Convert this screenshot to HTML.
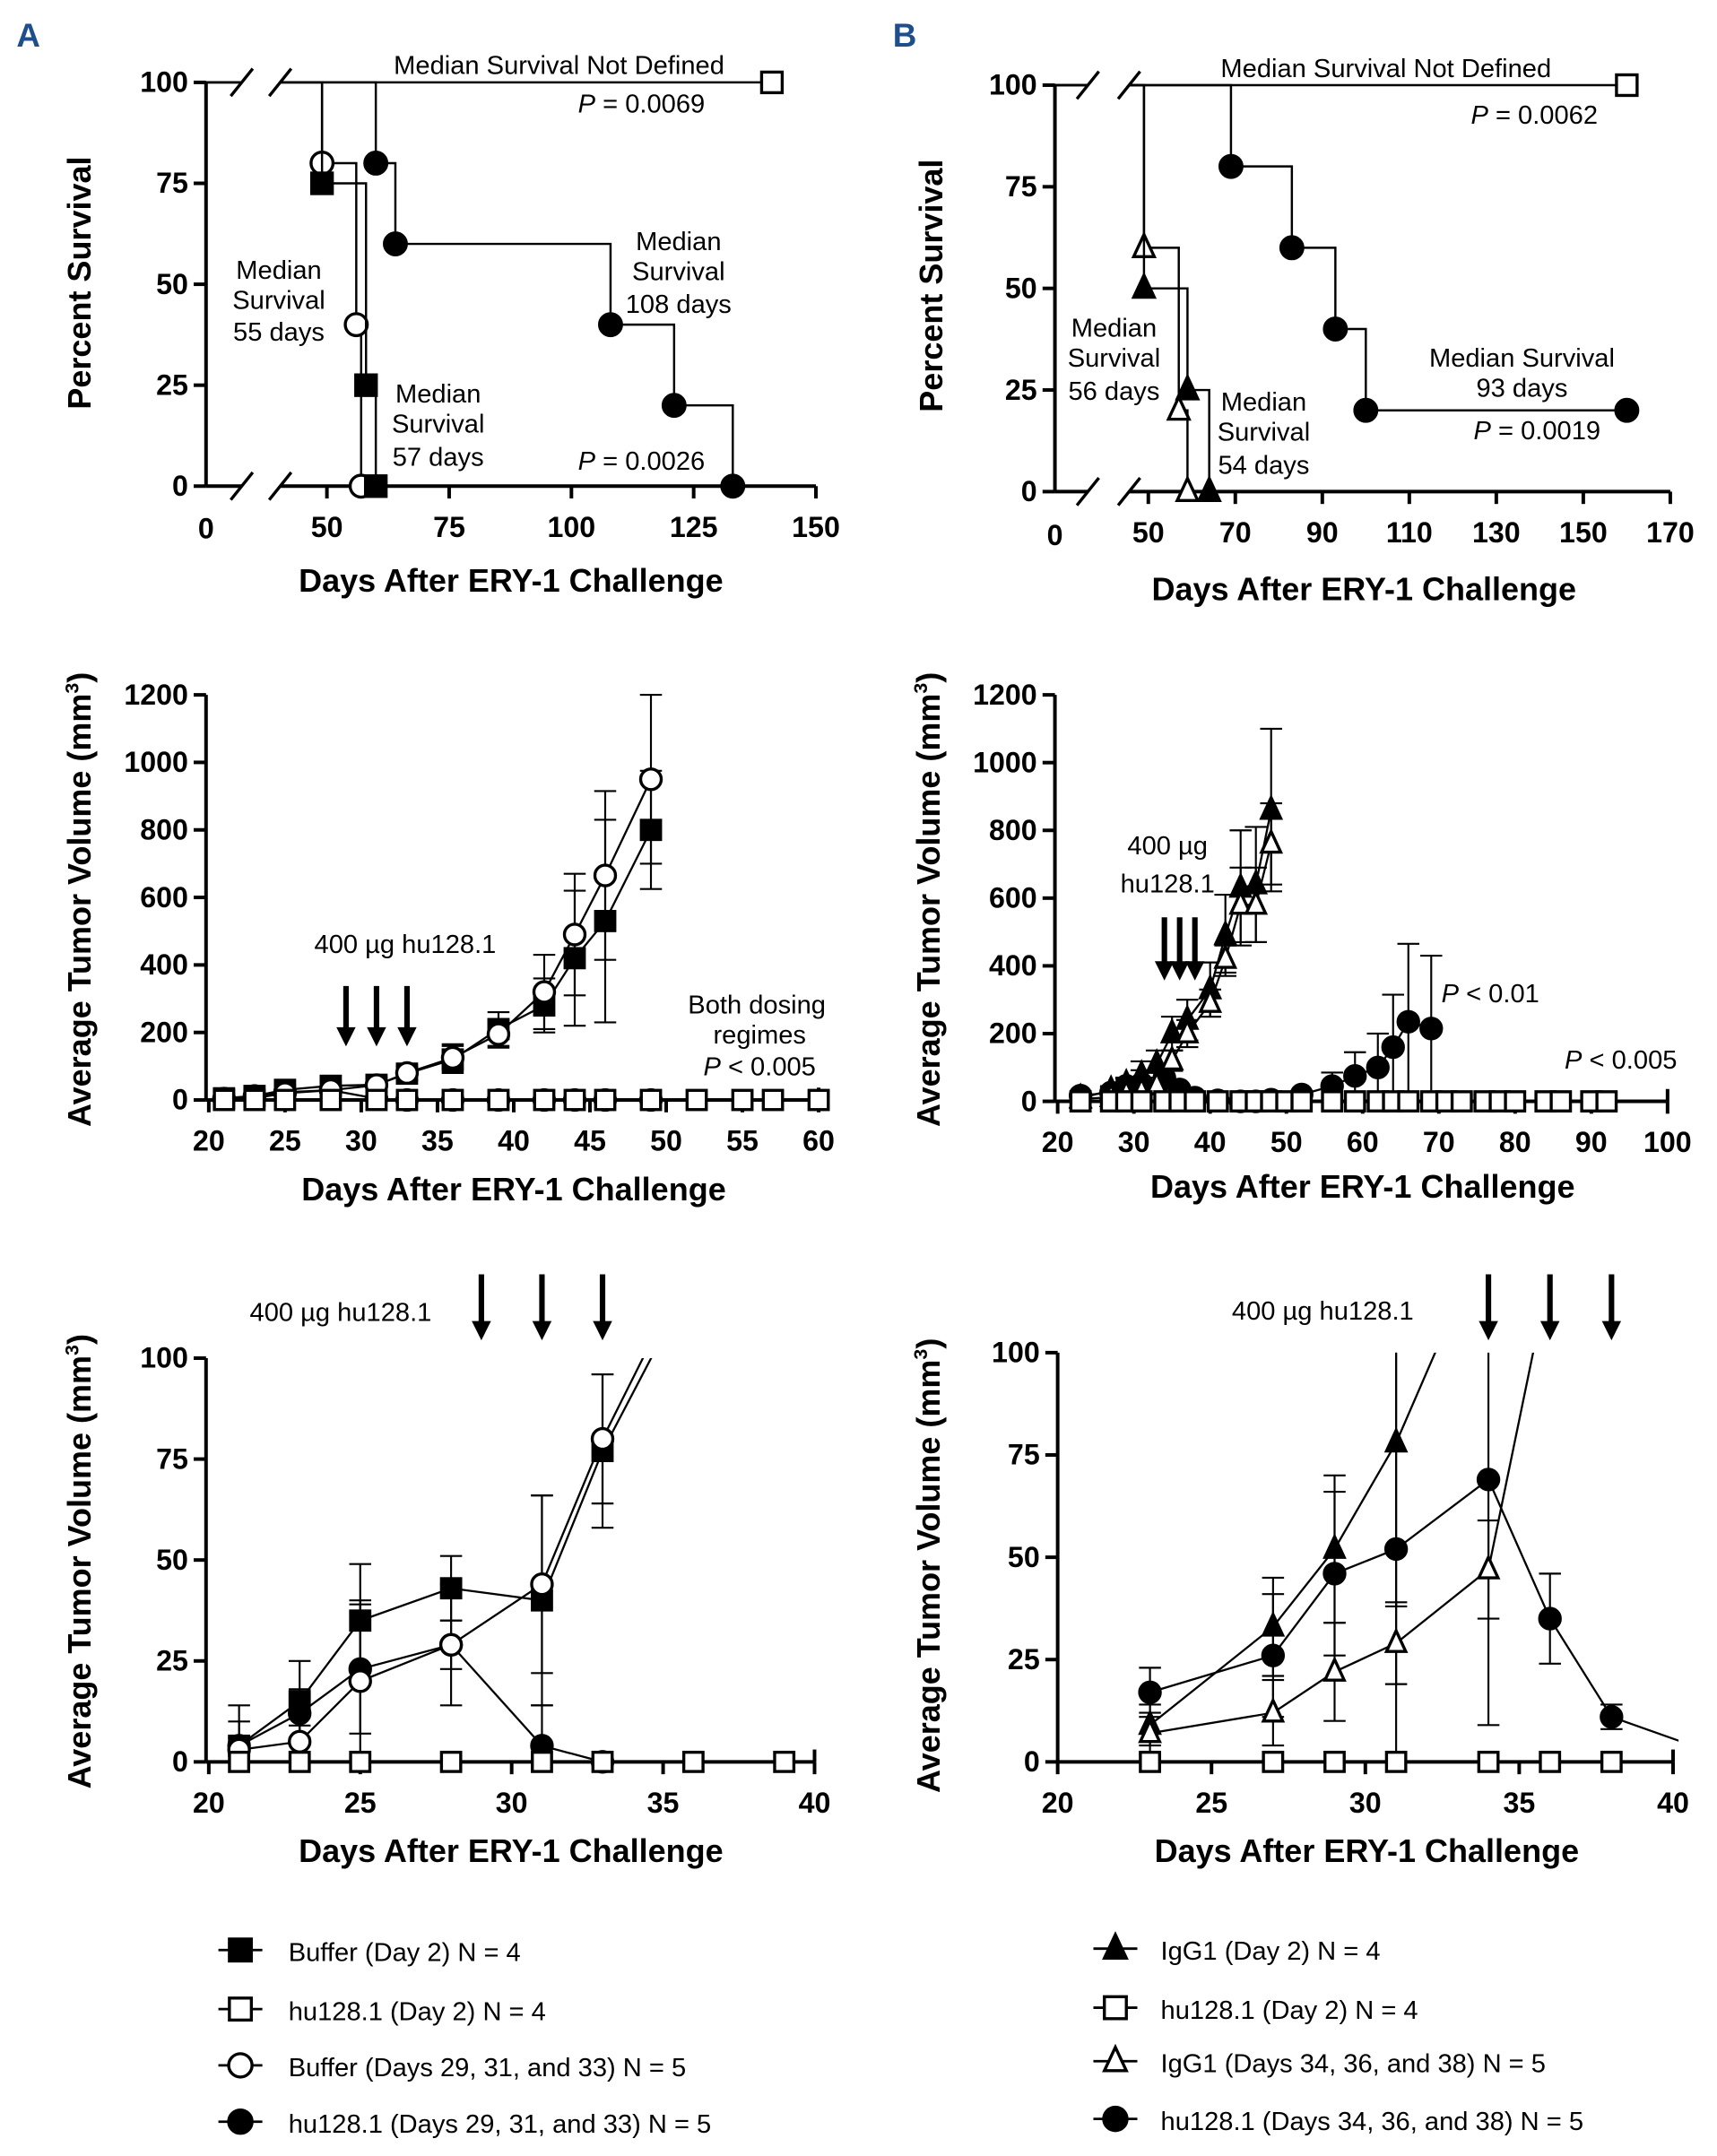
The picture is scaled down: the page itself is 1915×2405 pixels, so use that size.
<!DOCTYPE html>
<html><head><meta charset="utf-8"><style>
html,body{margin:0;padding:0;background:#fff;}
svg{display:block;font-family:"Liberation Sans",sans-serif;}
.tk{font-size:21px;font-weight:bold;text-anchor:middle;}
.tky{font-size:21px;font-weight:bold;text-anchor:end;}
.tt{font-size:23.5px;font-weight:bold;text-anchor:middle;}
.an{font-size:19px;}
</style></head><body>
<svg id="fig" width="1915" height="2405" viewBox="0 0 1250 1570" preserveAspectRatio="none" xmlns="http://www.w3.org/2000/svg">
<defs>
<clipPath id="clipA3"><rect x="150" y="989" width="450" height="320"/></clipPath>
<clipPath id="clipB3"><rect x="770" y="985" width="452" height="320"/></clipPath>
</defs>
<text x="12" y="34" font-size="24" font-weight="bold" fill="#1f4e8c">A</text>
<text x="650" y="34" font-size="24" font-weight="bold" fill="#1f4e8c">B</text>
<g id="root"></g>
</svg>
<script>
// ===== Data: Panel A survival =====
const kmA_bufDay2_t=[0,49,58,60];
const kmA_bufDay2_s=[100,75,25,0];
const kmA_huDay2_t=[0,141];
const kmA_huDay2_s=[100,100];
const kmA_bufLate_t=[0,49,56,57];
const kmA_bufLate_s=[100,80,40,0];
const kmA_huLate_t=[0,60,64,108,121,133];
const kmA_huLate_s=[100,80,60,40,20,0];
const kmA_xticks=[50,75,100,125,150];
const km_yticks=[0,25,50,75,100];
// ===== Panel B survival =====
const kmB_igDay2_t=[0,49,59,64];
const kmB_igDay2_s=[100,50,25,0];
const kmB_huDay2_t=[0,160];
const kmB_huDay2_s=[100,100];
const kmB_igLate_t=[0,49,57,59];
const kmB_igLate_s=[100,60,20,0];
const kmB_huLate_t=[0,69,83,93,100,160];
const kmB_huLate_s=[100,80,60,40,20,20];
const kmB_xticks=[50,70,90,110,130,150,170];
// ===== Panel A tumor volume (full) =====
const tvA_days=[21,23,25,28,31,33,36,39,42,44,46,49];
const tvA_buf=[5,12,30,42,45,78,120,210,280,420,530,800];
const tvA_bufErr=[4,10,15,10,20,20,40,50,80,200,300,175];
const tvA_bufLate=[4,5,20,29,44,80,125,195,320,490,665,950];
const tvA_bufLateErr=[3,4,20,15,22,18,40,40,110,180,250,250];
const tvA_huDays=[21,23,25,28,31,33,36,39,42,44,46,49,52,55,57,60];
const tvA_hu=[0,0,0,0,0,0,0,0,0,0,0,0,0,0,0,0];
const tvA_huLateDays=[21,23,25,28,31,33,36,39,42,44,46,49];
const tvA_huLate=[4,12,23,29,4,0,0,0,0,0,0,0];
const tvA_xticks=[20,25,30,35,40,45,50,55,60];
const tvA_yticks=[0,200,400,600,800,1000,1200];
// ===== Panel B tumor volume (full) =====
const tvB_igDays=[23,27,29,31,33,35,37,40,42,44,46,48];
const tvB_ig=[9,33,52,78,110,200,240,330,490,630,640,860];
const tvB_igErr=[5,12,18,40,40,50,60,80,120,170,170,240];
const tvB_igLate=[7,12,22,29,47,120,200,290,420,580,580,760];
const tvB_igLateErr=[5,8,12,10,12,30,40,40,40,110,110,120];
const tvB_huDays=[23,27,29,31,34,36,38,41,44,46,48,50,52,56,59,62,64,66,69,71,73,76,78,80,84,86,90,92];
const tvB_hu=[0,0,0,0,0,0,0,0,0,0,0,0,0,0,0,0,0,0,0,0,0,0,0,0,0,0,0,0];
const tvB_huLateDays=[23,27,29,31,34,36,38,41,44,46,48,52,56,59,62,64,66,69];
const tvB_huLate=[17,26,46,52,69,35,11,3,0,0,5,20,45,75,100,160,235,215];
const tvB_huLateErr=[8,15,20,40,40,11,4,2,0,0,5,10,40,70,100,155,230,215];
const tvB_xticks=[20,30,40,50,60,70,80,90,100];
// ===== Panel A tumor volume (zoom) =====
const zA_days=[21,23,25,28,31,33,36];
const zA_buf=[4,15,35,43,40,77,120];
const zA_bufErr=[10,10,14,8,26,19,20];
const zA_bufLate=[3,5,20,29,44,80,125];
const zA_bufLateErr=[3,4,20,15,22,16,20];
const zA_huDays=[21,23,25,28,31,33,36,39];
const zA_hu=[0,0,0,0,0,0,0,0];
const zA_huLate=[4,12,23,29,4,0];
const zA_huLateErr=[6,6,16,6,10,0];
const zA_xticks=[20,25,30,35,40];
const z_yticks=[0,25,50,75,100];
// ===== Panel B tumor volume (zoom) =====
const zB_igDays=[23,27,29,31,34];
const zB_ig=[9,33,52,78,130];
const zB_igErr=[5,12,18,40,40];
const zB_igLateDays=[23,27,29,31,34,36];
const zB_igLate=[7,12,22,29,47,120];
const zB_igLateErr=[5,8,12,10,12,30];
const zB_huDays=[23,27,29,31,34,36,38];
const zB_hu=[0,0,0,0,0,0,0];
const zB_huLateDays=[23,27,29,31,34,36,38,41];
const zB_huLate=[17,26,46,52,69,35,11,3];
const zB_huLateErr=[6,15,20,60,60,11,3,2];
const zB_xticks=[20,25,30,35,40];

const NS='http://www.w3.org/2000/svg';
const root=document.getElementById('root');
function mk(tag,attrs,parent){const e=document.createElementNS(NS,tag);for(const k in attrs)e.setAttribute(k,attrs[k]);(parent||root).appendChild(e);return e;}
function txt(x,y,s,cls,parent,extra){const e=mk('text',Object.assign({x:x,y:y,class:cls},extra||{}),parent);e.textContent=s;return e;}

function marker(g,type,x,y,r){
  r=r||7;let e;
  if(type==='fsq'||type==='osq'){e=mk('rect',{x:x-r,y:y-r,width:2*r,height:2*r,fill:type==='fsq'?'#000':'#fff',stroke:'#000','stroke-width':2.2},g);}
  else if(type==='fci'||type==='oci'){e=mk('circle',{cx:x,cy:y,r:r+0.5,fill:type==='fci'?'#000':'#fff',stroke:'#000','stroke-width':2.2},g);}
  else{const h=r*1.15;e=mk('polygon',{points:`${x},${y-h-1} ${x-r},${y+h*0.75} ${x+r},${y+h*0.75}`,fill:type==='ftr'?'#000':'#fff',stroke:'#000','stroke-width':2.2},g);}
  
  
}

function axes(g,c,xticks,yticks,opts){
  mk('line',{x1:c.ax,y1:c.yb,x2:c.ax,y2:c.yt,stroke:'#000','stroke-width':2.6},g);
  yticks.forEach(v=>{const y=c.sy(v);mk('line',{x1:c.ax-9,y1:y,x2:c.ax,y2:y,stroke:'#000','stroke-width':2.6},g);
    txt(c.ax-13,y+7,String(v),'tky',g);});
  mk('line',{x1:c.ax,y1:c.yb,x2:c.xe,y2:c.yb,stroke:'#000','stroke-width':2.6},g);
  xticks.forEach(v=>{const x=c.sx(v);mk('line',{x1:x,y1:c.yb,x2:x,y2:c.yb+9,stroke:'#000','stroke-width':2.6},g);
    txt(x,c.yb+37,String(v),'tk',g);});
  if(opts&&opts.endcap){mk('line',{x1:c.xe,y1:c.yb-9,x2:c.xe,y2:c.yb,stroke:'#000','stroke-width':2.6},g);}
}

function kmCurve(g,c,t,s,type,name){
  let d=`M${c.sx(t[0])},${c.sy(s[0])}`;
  for(let i=1;i<t.length;i++){d+=` H${c.sx(t[i])} V${c.sy(s[i])}`;}
  const p=mk('path',{d:d,fill:'none',stroke:'#000','stroke-width':1.6},g);
  
  
  for(let i=1;i<t.length;i++)marker(g,type,c.sx(t[i]),c.sy(s[i]),7.5);
}
function breaks(g,c,xa,xb){
  [c.sy(100),c.yb].forEach(y=>{
    mk('rect',{x:xa,y:y-4,width:xb-xa,height:8,fill:'#fff'},g);
    mk('line',{x1:xa-8,y1:y+10,x2:xa+8,y2:y-10,stroke:'#000','stroke-width':2.2},g);
    mk('line',{x1:xb-8,y1:y+10,x2:xb+8,y2:y-10,stroke:'#000','stroke-width':2.2},g);
  });
}

function series(g,c,days,vals,errs,type,name,clip){
  const gg=mk('g',clip?{'clip-path':`url(#${clip})`}:{},g);
  const lim=c.vmax;
  if(errs){days.forEach((d,i)=>{const e=errs[i];if(!e||vals[i]>lim)return;const x=c.sx(d);const y1=c.sy(vals[i]+e),y2=c.sy(Math.max(0,vals[i]-e));
    mk('line',{x1:x,y1:y1,x2:x,y2:y2,stroke:'#000','stroke-width':1.4},gg);
    mk('line',{x1:x-8,y1:y1,x2:x+8,y2:y1,stroke:'#000','stroke-width':1.4},gg);
    mk('line',{x1:x-8,y1:y2,x2:x+8,y2:y2,stroke:'#000','stroke-width':1.4},gg);});}
  const pts=days.map((d,i)=>`${c.sx(d)},${c.sy(vals[i])}`).join(' ');
  const pl=mk('polyline',{points:pts,fill:'none',stroke:'#000','stroke-width':1.5},gg);
  
  
  days.forEach((d,i)=>{if(vals[i]<=lim*1.001)marker(gg,type,c.sx(d),c.sy(vals[i]),7);});
}
function arrow(g,x,y1,y2){
  mk('line',{x1:x,y1:y1,x2:x,y2:y2-12,stroke:'#000','stroke-width':4},g);
  mk('polygon',{points:`${x-7},${y2-14} ${x+7},${y2-14} ${x},${y2}`,fill:'#000'},g);
}
function lin(d0,d1,p0,p1){return v=>p0+(v-d0)*(p1-p0)/(d1-d0);}

// ---------- Panel A survival ----------
(function(){
  const g=mk('g',{});
  const fx=lin(50,150,238,594);
  const c={ax:150,yb:354,yt:60,xe:594,sx:v=>v<=0?150:fx(v),sy:lin(0,100,354,60)};
  axes(g,c,kmA_xticks,km_yticks);
  txt(150,392,'0','tk',g);
  kmCurve(g,c,kmA_huDay2_t,kmA_huDay2_s,'osq','a-hu128-day2');
  kmCurve(g,c,kmA_bufLate_t,kmA_bufLate_s,'oci','a-buffer-late');
  kmCurve(g,c,kmA_bufDay2_t,kmA_bufDay2_s,'fsq','a-buffer-day2');
  kmCurve(g,c,kmA_huLate_t,kmA_huLate_s,'fci','a-hu128-late');
  breaks(g,c,176,204);
  txt(66,206,'Percent Survival','tt',g,{transform:'rotate(-90 66 206)'});
  txt(372,431,'Days After ERY-1 Challenge','tt',g);
  txt(407,54,'Median Survival Not Defined','an',g,{'text-anchor':'middle'});
  const p1=txt(467,82,'','an',g,{'text-anchor':'middle'});p1.innerHTML='<tspan font-style="italic">P</tspan> = 0.0069';
  const p2=txt(467,342,'','an',g,{'text-anchor':'middle'});p2.innerHTML='<tspan font-style="italic">P</tspan> = 0.0026';
  [['Median',203],['Survival',225],['55 days',248]].forEach(a=>txt(203,a[1],a[0],'an',g,{'text-anchor':'middle'}));
  [['Median',293],['Survival',315],['57 days',339]].forEach(a=>txt(319,a[1],a[0],'an',g,{'text-anchor':'middle'}));
  [['Median',182],['Survival',204],['108 days',228]].forEach(a=>txt(494,a[1],a[0],'an',g,{'text-anchor':'middle'}));
})();
// ---------- Panel B survival ----------
(function(){
  const g=mk('g',{});
  const fx=lin(50,170,836,1216);
  const c={ax:768,yb:358,yt:62,xe:1216,sx:v=>v<=0?768:fx(v),sy:lin(0,100,358,62)};
  axes(g,c,kmB_xticks,km_yticks);
  txt(768,397,'0','tk',g);
  kmCurve(g,c,kmB_huDay2_t,kmB_huDay2_s,'osq','b-hu128-day2');
  kmCurve(g,c,kmB_igLate_t,kmB_igLate_s,'otr','b-igg1-late');
  kmCurve(g,c,kmB_igDay2_t,kmB_igDay2_s,'ftr','b-igg1-day2');
  kmCurve(g,c,kmB_huLate_t,kmB_huLate_s,'fci','b-hu128-late');
  breaks(g,c,792,822);
  txt(686,208,'Percent Survival','tt',g,{transform:'rotate(-90 686 208)'});
  txt(993,437,'Days After ERY-1 Challenge','tt',g);
  txt(1009,56,'Median Survival Not Defined','an',g,{'text-anchor':'middle'});
  const p1=txt(1117,90,'','an',g,{'text-anchor':'middle'});p1.innerHTML='<tspan font-style="italic">P</tspan> = 0.0062';
  const p2=txt(1119,320,'','an',g,{'text-anchor':'middle'});p2.innerHTML='<tspan font-style="italic">P</tspan> = 0.0019';
  [['Median',245],['Survival',267],['56 days',291]].forEach(a=>txt(811,a[1],a[0],'an',g,{'text-anchor':'middle'}));
  [['Median',299],['Survival',321],['54 days',345]].forEach(a=>txt(920,a[1],a[0],'an',g,{'text-anchor':'middle'}));
  txt(1108,267,'Median Survival','an',g,{'text-anchor':'middle'});
  txt(1108,289,'93 days','an',g,{'text-anchor':'middle'});
})();
// ---------- Panel A tumor volume ----------
(function(){
  const g=mk('g',{});
  const c={ax:150,yb:801,yt:506,xe:596,sx:lin(20,60,152,596),sy:lin(0,1200,801,506),vmax:1300};
  axes(g,c,tvA_xticks,tvA_yticks,{endcap:true});
  series(g,c,tvA_huLateDays,tvA_huLate,null,'fci','a-hu128-late');
  series(g,c,tvA_days,tvA_buf,tvA_bufErr,'fsq','a-buffer-day2');
  series(g,c,tvA_days,tvA_bufLate,tvA_bufLateErr,'oci','a-buffer-late');
  series(g,c,tvA_huDays,tvA_hu,null,'osq','a-hu128-day2');
  [29,31,33].forEach(d=>arrow(g,c.sx(d),718,762));
  txt(295,694,'400 µg hu128.1','an',g,{'text-anchor':'middle','font-size':'22'});
  txt(551,738,'Both dosing','an',g,{'text-anchor':'middle'});
  txt(553,760,'regimes','an',g,{'text-anchor':'middle'});
  const p=txt(553,783,'','an',g,{'text-anchor':'middle'});p.innerHTML='<tspan font-style="italic">P</tspan> &lt; 0.005';
  const yt=txt(66,655,'','tt',g,{transform:'rotate(-90 66 655)'});yt.innerHTML='Average Tumor Volume (mm<tspan font-size="14" dy="-9">3</tspan><tspan dy="9">)</tspan>';
  txt(374,874,'Days After ERY-1 Challenge','tt',g);
})();
// ---------- Panel B tumor volume ----------
(function(){
  const g=mk('g',{});
  const c={ax:768,yb:802,yt:506,xe:1214,sx:lin(20,100,770,1214),sy:lin(0,1200,802,506),vmax:1300};
  axes(g,c,tvB_xticks,tvA_yticks,{endcap:true});
  series(g,c,tvB_huLateDays,tvB_huLate,tvB_huLateErr,'fci','b-hu128-late');
  series(g,c,tvB_igDays,tvB_ig,tvB_igErr,'ftr','b-igg1-day2');
  series(g,c,tvB_igDays,tvB_igLate,tvB_igLateErr,'otr','b-igg1-late');
  series(g,c,tvB_huDays,tvB_hu,null,'osq','b-hu128-day2');
  [34,36,38].forEach(d=>arrow(g,c.sx(d),668,714));
  txt(850,622,'400 µg','an',g,{'text-anchor':'middle','font-size':'22'});
  txt(850,650,'hu128.1','an',g,{'text-anchor':'middle','font-size':'22'});
  const p=txt(1085,730,'','an',g,{'text-anchor':'middle'});p.innerHTML='<tspan font-style="italic">P</tspan> &lt; 0.01';
  const p2=txt(1180,778,'','an',g,{'text-anchor':'middle'});p2.innerHTML='<tspan font-style="italic">P</tspan> &lt; 0.005';
  const yt=txt(684,655,'','tt',g,{transform:'rotate(-90 684 655)'});yt.innerHTML='Average Tumor Volume (mm<tspan font-size="14" dy="-9">3</tspan><tspan dy="9">)</tspan>';
  txt(992,872,'Days After ERY-1 Challenge','tt',g);
})();
// ---------- Panel A zoom ----------
(function(){
  const g=mk('g',{});
  const c={ax:150,yb:1283,yt:989,xe:593,sx:lin(20,40,152,593),sy:lin(0,100,1283,989),vmax:100};
  axes(g,c,zA_xticks,z_yticks,{endcap:true});
  series(g,c,zA_days.slice(0,6),zA_huLate,zA_huLateErr,'fci','a-zoom-hu128-late','clipA3');
  series(g,c,zA_days,zA_buf,zA_bufErr,'fsq','a-zoom-buffer-day2','clipA3');
  series(g,c,zA_days,zA_bufLate,zA_bufLateErr,'oci','a-zoom-buffer-late','clipA3');
  series(g,c,zA_huDays,zA_hu,null,'osq','a-zoom-hu128-day2','clipA3');
  [29,31,33].forEach(d=>arrow(g,c.sx(d),928,976));
  txt(248,962,'400 µg hu128.1','an',g,{'text-anchor':'middle','font-size':'22'});
  const yt=txt(66,1137,'','tt',g,{transform:'rotate(-90 66 1137)'});yt.innerHTML='Average Tumor Volume (mm<tspan font-size="14" dy="-9">3</tspan><tspan dy="9">)</tspan>';
  txt(372,1356,'Days After ERY-1 Challenge','tt',g);
})();
// ---------- Panel B zoom ----------
(function(){
  const g=mk('g',{});
  const c={ax:770,yb:1283,yt:985,xe:1218,sx:lin(20,40,770,1218),sy:lin(0,100,1283,985),vmax:100};
  axes(g,c,zB_xticks,z_yticks,{endcap:true});
  series(g,c,zB_huLateDays,zB_huLate,zB_huLateErr,'fci','b-zoom-hu128-late','clipB3');
  series(g,c,zB_igDays,zB_ig,zB_igErr,'ftr','b-zoom-igg1-day2','clipB3');
  series(g,c,zB_igLateDays,zB_igLate,zB_igLateErr,'otr','b-zoom-igg1-late','clipB3');
  series(g,c,zB_huDays,zB_hu,null,'osq','b-zoom-hu128-day2','clipB3');
  [34,36,38].forEach(d=>arrow(g,c.sx(d),928,976));
  txt(963,961,'400 µg hu128.1','an',g,{'text-anchor':'middle','font-size':'22'});
  const yt=txt(684,1140,'','tt',g,{transform:'rotate(-90 684 1140)'});yt.innerHTML='Average Tumor Volume (mm<tspan font-size="14" dy="-9">3</tspan><tspan dy="9">)</tspan>';
  txt(995,1356,'Days After ERY-1 Challenge','tt',g);
})();
// ---------- Legends ----------
const legA=[['fsq','Buffer (Day 2) N = 4'],['osq','hu128.1 (Day 2) N = 4'],['oci','Buffer (Days 29, 31, and 33) N = 5'],['fci','hu128.1 (Days 29, 31, and 33) N = 5']];
const legB=[['ftr','IgG1 (Day 2) N = 4'],['osq','hu128.1 (Day 2) N = 4'],['otr','IgG1 (Days 34, 36, and 38) N = 5'],['fci','hu128.1 (Days 34, 36, and 38) N = 5']];
const legAY=[1420,1463,1504,1545];
const legBY=[1419,1462,1501,1543];
function legend(items,ys,x0,tx,nm){
  const g=mk('g',{});
  items.forEach((it,i)=>{const y=ys[i];
    const ge=mk('g',{},g);
    
    
    mk('line',{x1:x0-16,y1:y,x2:x0+16,y2:y,stroke:'#000','stroke-width':1.8},ge);
    marker(ge,it[0],x0,y,8);
    txt(tx,y+8,it[1],'an',ge,{'font-size':'23'});});
}
legend(legA,legAY,175,210,'legend-panel-a');
legend(legB,legBY,812,845,'legend-panel-b');
</script>
</body></html>
